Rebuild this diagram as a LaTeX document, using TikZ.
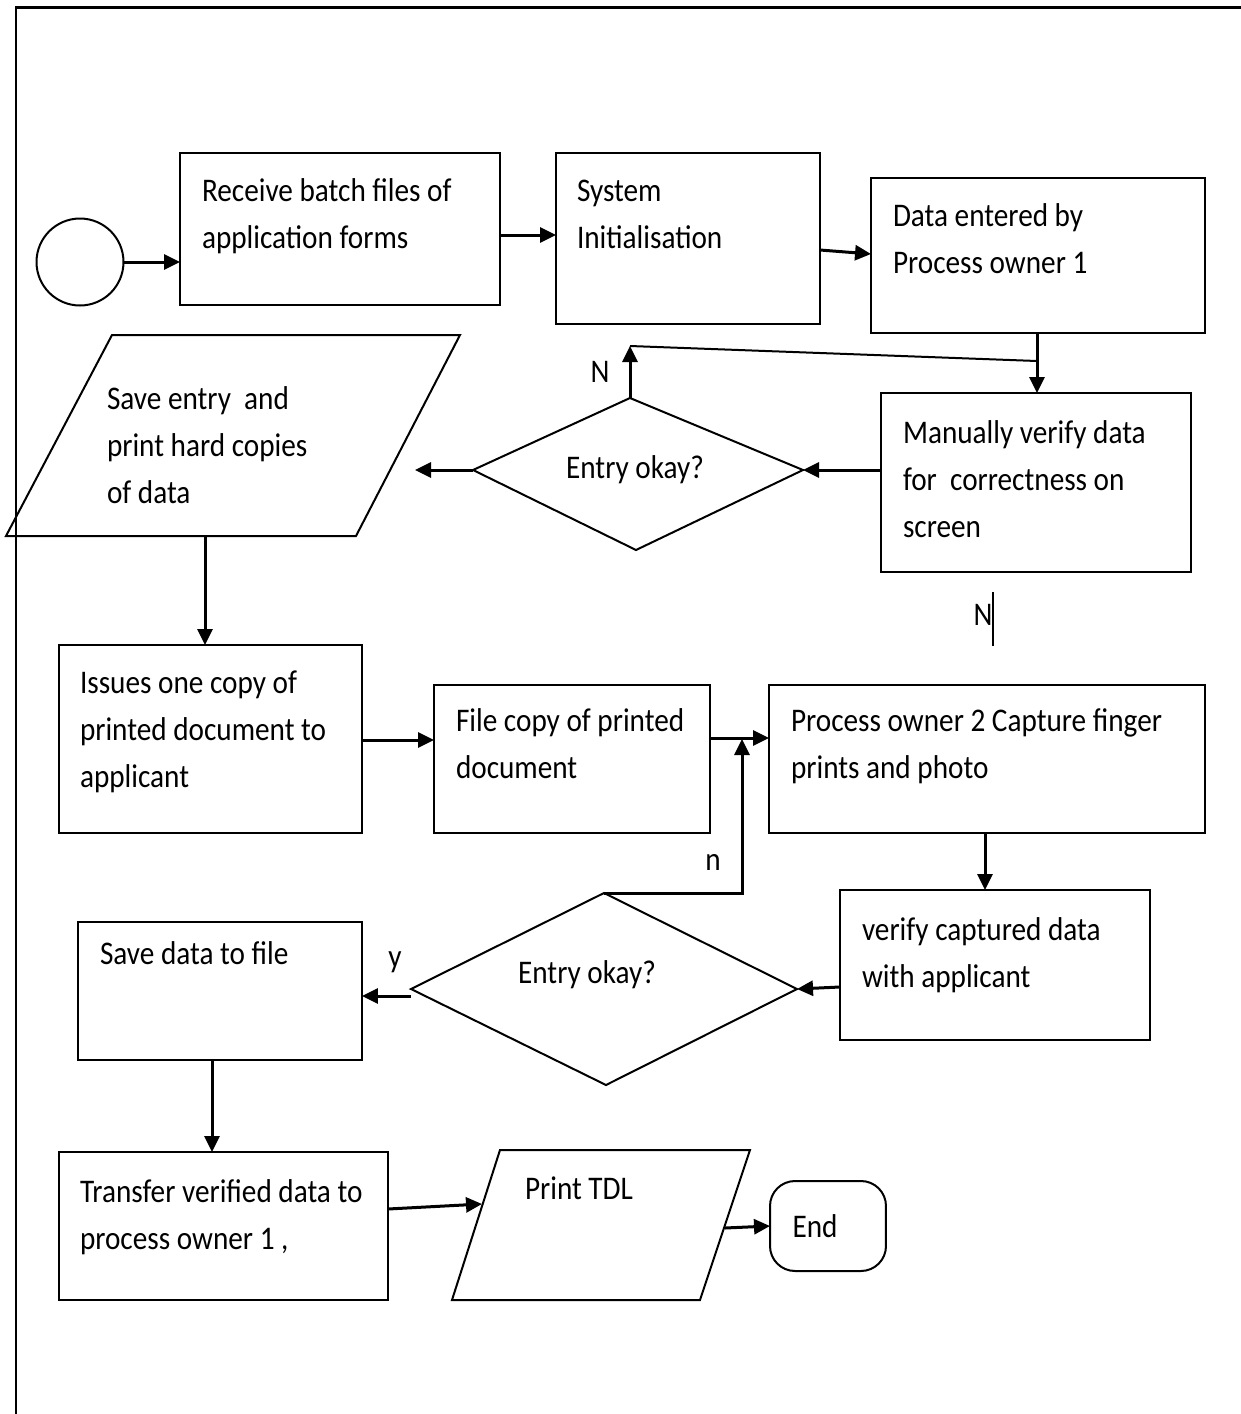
\documentclass[tikz,border=0pt]{standalone}
\usepackage{fontspec}
\setmainfont{Carlito}[FakeStretch=0.885]
\usetikzlibrary{arrows.meta,calc}
\begin{document}
\begin{tikzpicture}[x=0.02cm, y=-0.02cm,
  every node/.style={inner sep=0pt, outer sep=0pt},
  procbox/.style={draw, rectangle, line width=0.04cm},
  txt/.style={anchor=base west, align=left, font=\fontsize{18.8}{26.7}\selectfont},
  lbl/.style={font=\fontsize{18.8}{22}\selectfont},
  outline/.style={line width=0.04cm, line join=miter},
  flow/.style={line width=0.06cm, -{Triangle[length=0.32cm, width=0.3cm]}},
  plain/.style={line width=0.04cm}]
\useasboundingbox (0,0) rectangle (1241,1414);

% page frame (top and left edges)
\draw[line width=0.06cm] (16,1414) -- (16,7.5) -- (1241,7.5);

% start terminal
\node[draw, circle, line width=0.04cm, minimum size=1.74cm] (start) at (80,262) {};

% process boxes
\node[procbox, minimum width=6.4cm,  minimum height=3.04cm] (b1)  at (340,229) {};
\node[procbox, minimum width=5.28cm, minimum height=3.42cm] (b2)  at (688,238.5) {};
\node[procbox, minimum width=6.68cm, minimum height=3.1cm]  (b3)  at (1038,255.5) {};
\node[procbox, minimum width=6.2cm,  minimum height=3.58cm] (b4)  at (1036,482.5) {};
\node[procbox, minimum width=6.06cm, minimum height=3.76cm] (b5)  at (210.5,739) {};
\node[procbox, minimum width=5.52cm, minimum height=2.96cm] (b6)  at (572,759) {};
\node[procbox, minimum width=8.72cm, minimum height=2.96cm] (b7)  at (987,759) {};
\node[procbox, minimum width=6.2cm,  minimum height=3.0cm]  (b8)  at (995,965) {};
\node[procbox, minimum width=5.68cm, minimum height=2.76cm] (b9)  at (220,991) {};
\node[procbox, minimum width=6.58cm, minimum height=2.96cm] (b10) at (223.5,1226) {};
\node[procbox, rounded corners=0.5cm, minimum width=2.32cm, minimum height=1.8cm] (stop) at (828,1226) {};

% input/output parallelograms
\coordinate (p1tl) at (112,335);  \coordinate (p1tr) at (460,335);
\coordinate (p1br) at (356,536);  \coordinate (p1bl) at (6,536);
\draw[outline] (p1tl) -- (p1tr) -- (p1br) -- (p1bl) -- cycle;
\coordinate (p1r) at (415,470);
\coordinate (p1b) at (205,536);

\coordinate (p2tl) at (500,1150); \coordinate (p2tr) at (750,1150);
\coordinate (p2br) at (700,1300); \coordinate (p2bl) at (452,1300);
\draw[outline] (p2tl) -- (p2tr) -- (p2br) -- (p2bl) -- cycle;
\coordinate (p2l) at (482,1204);
\coordinate (p2r) at (725,1228);

% decision diamonds
\coordinate (d1l) at (473,470); \coordinate (d1t) at (630,398);
\coordinate (d1r) at (803,470); \coordinate (d1b) at (636,550);
\draw[outline] (d1l) -- (d1t) -- (d1r) -- (d1b) -- cycle;

\coordinate (d2l) at (411,989); \coordinate (d2t) at (604,893);
\coordinate (d2r) at (797,989); \coordinate (d2b) at (606,1085);
\draw[outline] (d2l) -- (d2t) -- (d2r) -- (d2b) -- cycle;

% texts (anchored at the baseline of the last line)
\node[txt] (t1)  at (202,248)  {Receive batch files of\\application forms};
\node[txt] (t2)  at (577,248)  {System\\Initialisation};
\node[txt] (t3)  at (893,273)  {Data entered by\\Process owner 1};
\node[txt] (t4)  at (903,537)  {Manually verify data\\for\ \ correctness on\\screen};
\node[txt] (t5)  at (107,503)  {Save entry\ \ and\\print hard copies\\of data};
\node[lbl] (t6)  at (635,470)  {Entry okay?};
\node[txt] (t7)  at (80,787)   {Issues one copy of\\printed document to\\applicant};
\node[txt] (t8)  at (456,778)  {File copy of printed\\document};
\node[txt] (t9)  at (791,778)  {Process owner 2 Capture finger\\prints and photo};
\node[txt] (t10) at (862,987)  {verify captured data\\with applicant};
\node[lbl] (t11) at (587,975)  {Entry okay?};
\node[txt] (t12) at (100,964)  {Save data to file};
\node[txt] (t13) at (80,1249)  {Transfer verified data to\\process owner 1 ,};
\node[txt] (t14) at (525,1199) {Print TDL};
\node[lbl] (tEnd) at (815,1226) {End};

% branch labels
\node[lbl] (nA) at (600,372) {N};
\node[lbl] (nB) at (983,615) {N};
\node[lbl] (nC) at (713,862) {n};
\node[lbl] (nD) at (395,962) {y};
\coordinate (barT) at (993,592);
\coordinate (barB) at (993,646);
\draw[plain] (barT) -- (barB);

% connectors
\draw[flow] (start) -- (b1.west |- start);
\draw[flow] (b1.east |- 0,235) -- (b2.west |- 0,235);
\draw[flow] (b2.east |- 0,250) -- (b3.west |- 0,254);
\draw[flow] (1037,0 |- b3.south) -- (1037,0 |- b4.north);
\coordinate (fbj) at (1037,361);
\coordinate (fbk) at (630,346);
\draw[plain] (fbj) -- (fbk);
\draw[flow] (d1t) -- (fbk);
\draw[flow] (b4.west |- d1r) -- (d1r);
\draw[flow] (d1l) -- (p1r);
\draw[flow] (p1b) -- (b5.north -| p1b);
\draw[flow] (b5.east |- 0,740) -- (b6.west |- 0,740);
\draw[flow] (b6.east |- 0,738) -- (b7.west |- 0,738);
\coordinate (nj) at (742,739);
\draw[flow] (d2t) -| (nj);
\draw[flow] (985,0 |- b7.south) -- (985,0 |- b8.north);
\draw[flow] (b8.west |- 0,987) -- (d2r);
\draw[flow] (d2l |- 0,996) -- (b9.east |- 0,996);
\draw[flow] (212,0 |- b9.south) -- (212,0 |- b10.north);
\draw[flow] (b10.east |- 0,1209) -- (p2l);
\draw[flow] (p2r) -- (stop.west);
\end{tikzpicture}
\end{document}
